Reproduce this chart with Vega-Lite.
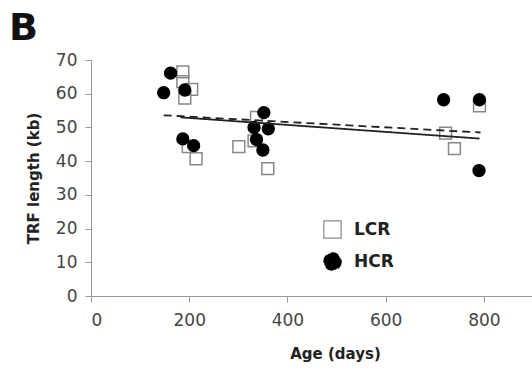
{
  "$schema": "https://vega.github.io/schema/vega-lite/v6.json",
  "width": 442,
  "height": 236,
  "autosize": {"type": "none"},
  "padding": {"left": 91, "top": 60, "right": 0, "bottom": 74},
  "background": "white",
  "title": {"text": "B", "anchor": "start", "frame": "group", "dx": -82, "offset": 3, "fontSize": 38, "font": "DejaVu Sans", "fontWeight": "bold", "color": "#111"},
  "config": {
    "view": {"stroke": null},
    "axis": {"grid": false, "domainColor": "#999", "tickColor": "#999", "labelFont": "DejaVu Sans", "labelFontSize": 17, "labelColor": "#444", "titleFont": "DejaVu Sans", "titleFontSize": 15, "titleFontWeight": "bold", "titleColor": "#222", "tickSize": 6, "labelOverlap": false}
  },
  "datasets": {
    "pts": [
      {"age": 187, "trf": 66.5, "group": "LCR"},
      {"age": 187, "trf": 63.6, "group": "LCR"},
      {"age": 205, "trf": 61.3, "group": "LCR"},
      {"age": 191, "trf": 58.7, "group": "LCR"},
      {"age": 198, "trf": 44.3, "group": "LCR"},
      {"age": 214, "trf": 40.7, "group": "LCR"},
      {"age": 301, "trf": 44.3, "group": "LCR"},
      {"age": 337, "trf": 53, "group": "LCR"},
      {"age": 332, "trf": 46, "group": "LCR"},
      {"age": 360, "trf": 37.8, "group": "LCR"},
      {"age": 722, "trf": 48.3, "group": "LCR"},
      {"age": 740, "trf": 43.7, "group": "LCR"},
      {"age": 791, "trf": 56.4, "group": "LCR"},
      {"age": 162, "trf": 66.1, "group": "HCR"},
      {"age": 148, "trf": 60.3, "group": "HCR"},
      {"age": 191, "trf": 61.1, "group": "HCR"},
      {"age": 187, "trf": 46.6, "group": "HCR"},
      {"age": 209, "trf": 44.6, "group": "HCR"},
      {"age": 352, "trf": 54.4, "group": "HCR"},
      {"age": 332, "trf": 50, "group": "HCR"},
      {"age": 361, "trf": 49.6, "group": "HCR"},
      {"age": 337, "trf": 46.4, "group": "HCR"},
      {"age": 350, "trf": 43.3, "group": "HCR"},
      {"age": 718, "trf": 58.2, "group": "HCR"},
      {"age": 791, "trf": 58.2, "group": "HCR"},
      {"age": 790, "trf": 37.2, "group": "HCR"}
    ],
    "fits": [
      {"age": 148, "trf": 53.6, "group": "HCR"},
      {"age": 793, "trf": 48.5, "group": "HCR"},
      {"age": 182, "trf": 53.0, "group": "LCR"},
      {"age": 791, "trf": 46.7, "group": "LCR"}
    ]
  },
  "layer": [
    {
      "data": {"name": "pts"},
      "mark": {"type": "point", "filled": true, "strokeWidth": 1.5, "opacity": 1, "size": 140},
      "encoding": {
        "x": {"field": "age", "type": "quantitative", "scale": {"domain": [0, 900], "nice": false}, "axis": {"values": [0, 200, 400, 600, 800], "title": "Age (days)", "titleX": 244, "titleY": 62, "titleBaseline": "alphabetic", "labelPadding": 10}},
        "y": {"field": "trf", "type": "quantitative", "scale": {"domain": [0, 70], "nice": false}, "axis": {"values": [0, 10, 20, 30, 40, 50, 60, 70], "title": "TRF length (kb)", "titlePadding": 14, "labelPadding": 8}},
        "shape": {"field": "group", "type": "nominal", "scale": {"domain": ["LCR", "HCR"], "range": ["square", "circle"]},
          "legend": {"orient": "none", "legendX": 232, "legendY": 160, "title": null, "labelFont": "DejaVu Sans", "labelFontSize": 17, "labelFontWeight": "bold", "labelColor": "#222", "symbolSize": 300, "rowPadding": 9, "labelOffset": 12, "symbolStrokeWidth": 1.2}},
        "fill": {"field": "group", "type": "nominal", "scale": {"domain": ["LCR", "HCR"], "range": ["rgba(255,255,255,0)", "black"]},
          "legend": {"orient": "none", "legendX": 232, "legendY": 160, "title": null, "labelFont": "DejaVu Sans", "labelFontSize": 17, "labelFontWeight": "bold", "labelColor": "#222", "symbolSize": 300, "rowPadding": 9, "labelOffset": 12, "symbolStrokeWidth": 1.2}},
        "stroke": {"field": "group", "type": "nominal", "scale": {"domain": ["LCR", "HCR"], "range": ["#888", "black"]},
          "legend": {"orient": "none", "legendX": 232, "legendY": 160, "title": null, "labelFont": "DejaVu Sans", "labelFontSize": 17, "labelFontWeight": "bold", "labelColor": "#222", "symbolSize": 300, "rowPadding": 9, "labelOffset": 12, "symbolStrokeWidth": 1.2}},
        "order": {"field": "group", "sort": "descending"}
      }
    },
    {
      "data": {"name": "fits"},
      "mark": {"type": "line", "color": "#222", "strokeWidth": 1.8},
      "encoding": {
        "x": {"field": "age", "type": "quantitative", "axis": {"values": [0, 200, 400, 600, 800], "title": "Age (days)", "titleX": 244, "titleY": 62, "titleBaseline": "alphabetic", "labelPadding": 10}},
        "y": {"field": "trf", "type": "quantitative", "axis": {"values": [0, 10, 20, 30, 40, 50, 60, 70], "title": "TRF length (kb)", "titlePadding": 14, "labelPadding": 8}},
        "detail": {"field": "group"},
        "strokeDash": {"field": "group", "type": "nominal", "scale": {"domain": ["LCR", "HCR"], "range": [[1, 0], [8, 5]]}, "legend": null}
      }
    }
  ]
}
